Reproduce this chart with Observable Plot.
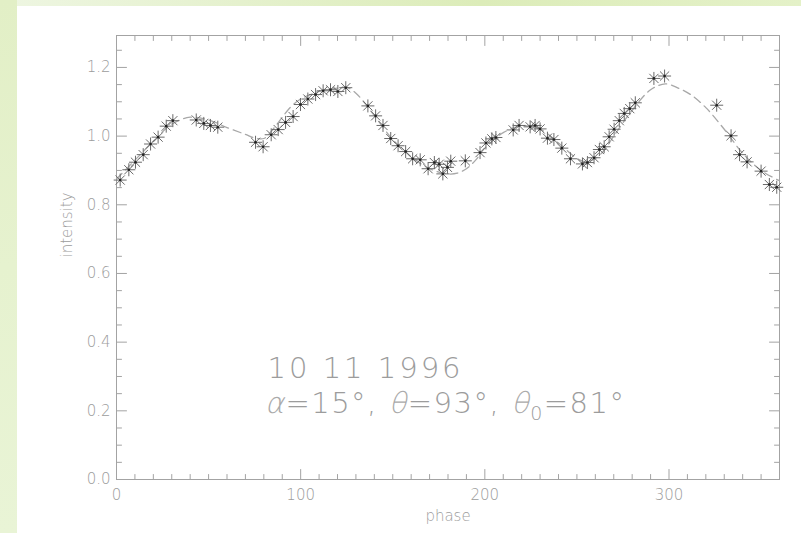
<!DOCTYPE html>
<html><head><meta charset="utf-8">
<script src="https://cdn.jsdelivr.net/npm/d3@7"></script>
<script src="https://cdn.jsdelivr.net/npm/@observablehq/plot@0.6"></script>
<style>
html,body{margin:0;padding:0;}
body{width:801px;height:533px;overflow:hidden;position:relative;background:#fff;}
#bgTop{position:absolute;left:0;top:0;width:801px;height:6px;background:linear-gradient(to right,#eef6e2,#dcecb9 60%,#e4f1c8);}
#bgLeft{position:absolute;left:0;top:0;width:17px;height:533px;background:linear-gradient(to bottom,#e2efc6,#e6f2cf 50%,#e9f4d6);}
#chart{position:absolute;left:0;top:0;}
</style></head><body>
<div id="bgTop"></div><div id="bgLeft"></div><div id="chart"></div>
<script>
// observed points (asterisks)
const phaseObs = [2.0, 6.7, 10.3, 14.5, 18.5, 22.6, 27.0, 30.6, 43.3, 47.4, 51.0, 55.0, 75.5, 79.6, 84.0, 87.8, 91.8, 95.9, 99.9, 103.9, 108.1, 112.2, 116.2, 120.2, 124.5, 136.5, 140.7, 144.7, 148.9, 152.9, 157.0, 160.8, 164.9, 169.2, 172.6, 175.2, 177.2, 179.7, 181.5, 189.4, 197.4, 200.6, 203.8, 206.0, 215.4, 218.6, 224.6, 227.3, 230.0, 234.0, 237.5, 241.8, 246.5, 253.0, 255.7, 259.3, 262.2, 264.8, 267.5, 270.2, 273.0, 275.7, 278.7, 281.7, 291.8, 297.6, 325.9, 333.7, 338.3, 342.4, 350.0, 354.5, 358.5];
const intensityObs = [0.872, 0.902, 0.924, 0.946, 0.977, 0.997, 1.029, 1.045, 1.047, 1.037, 1.031, 1.026, 0.982, 0.969, 1.004, 1.019, 1.040, 1.057, 1.092, 1.108, 1.121, 1.132, 1.135, 1.130, 1.141, 1.088, 1.059, 1.031, 0.993, 0.972, 0.955, 0.934, 0.931, 0.905, 0.923, 0.918, 0.890, 0.909, 0.927, 0.928, 0.952, 0.980, 0.992, 0.996, 1.018, 1.031, 1.027, 1.031, 1.021, 0.994, 0.990, 0.965, 0.934, 0.919, 0.923, 0.937, 0.961, 0.969, 0.998, 1.020, 1.045, 1.066, 1.080, 1.097, 1.168, 1.175, 1.090, 1.001, 0.946, 0.925, 0.898, 0.859, 0.851];
// model curve (dashed)
const phaseModel = [0,10,20,30,40,50,60,70,75,80,85,90,95,100,105,110,120,125,130,135,140,150,160,170,180,185,190,195,200,210,220,230,240,250,255,260,265,270,280,290,298,305,312,320,330,340,350,360];
const intensityModel = [0.875,0.93,0.985,1.035,1.055,1.047,1.025,1.005,0.995,0.993,1.02,1.055,1.087,1.108,1.12,1.13,1.14,1.142,1.125,1.095,1.06,0.99,0.94,0.905,0.89,0.892,0.905,0.93,0.965,1.01,1.03,1.02,0.98,0.935,0.925,0.935,0.96,1.0,1.075,1.135,1.152,1.14,1.12,1.083,1.02,0.95,0.9,0.87];
// axes
const xDomain = [0, 360];
const yDomain = [0, 1.293];
const xTickLabels = [0, 100, 200, 300];
const yTickLabels = [0.0, 0.2, 0.4, 0.6, 0.8, 1.0, 1.2];
const xMinorTicks = d3.range(0, 361, 10).filter(v => v % 100 !== 0);
const yMinorTicks = d3.range(0, 26).map(i => +(i * 0.05).toFixed(2)).filter(v => Math.abs(v / 0.2 - Math.round(v / 0.2)) > 1e-6);
const xTitle = "phase";
const yTitle = "intensity";
// annotation
const annoText = ["10 11 1996", "α=15°, θ=93°, θ₀=81°"];
const annoPhase = [82, 80.5];
const annoIntensity = [0.297, 0.195];

const obs = phaseObs.map((p, i) => ({phase: p, intensity: intensityObs[i]}));
const model = phaseModel.map((p, i) => ({phase: p, intensity: intensityModel[i]}));
const anno = annoText.map((t, i) => ({text: t, phase: annoPhase[i], intensity: annoIntensity[i]}));

const axisColor = "#a3a3a3";
const textColor = "#9c9c9c";
const tickShape = {draw(context, l) { context.moveTo(0, 0); context.lineTo(0, -l); }};
const asterisk = {draw(ctx, size) {
  const r = Math.sqrt(size / Math.PI), d = r * Math.SQRT1_2;
  ctx.moveTo(-r, 0); ctx.lineTo(r, 0);
  ctx.moveTo(0, -r); ctx.lineTo(0, r);
  ctx.moveTo(-d, -d); ctx.lineTo(d, d);
  ctx.moveTo(-d, d); ctx.lineTo(d, -d);
}};

function ticks(values, axis, len) {
  const base = {length: len, shape: tickShape, anchor: "start", stroke: axisColor, strokeWidth: 1};
  if (axis === "x") return [
    Plot.vector(values, {...base, x: d => d, y: () => yDomain[0], rotate: 0}),
    Plot.vector(values, {...base, x: d => d, y: () => yDomain[1], rotate: 180})
  ];
  return [
    Plot.vector(values, {...base, y: d => d, x: () => xDomain[0], rotate: 90}),
    Plot.vector(values, {...base, y: d => d, x: () => xDomain[1], rotate: 270})
  ];
}

const chart = Plot.plot({
  width: 801, height: 533,
  marginLeft: 116, marginRight: 22, marginTop: 35, marginBottom: 54,
  style: {background: "transparent", fontFamily: "'DejaVu Sans', sans-serif", fontWeight: 200, color: textColor},
  x: {domain: xDomain},
  y: {domain: yDomain},
  marks: [
    Plot.frame({stroke: axisColor}),
    ...ticks(xTickLabels, "x", 10),
    ...ticks(xMinorTicks, "x", 5),
    ...ticks(yTickLabels, "y", 10),
    ...ticks(yMinorTicks, "y", 5),
    Plot.axisX({ticks: xTickLabels, tickSize: 0, tickPadding: 10, tickFormat: d3.format("d"), label: null, fontSize: 15, fill: textColor}),
    Plot.axisY({ticks: yTickLabels, tickSize: 0, tickPadding: 6, tickFormat: d3.format(".1f"), label: null, fontSize: 15, fill: textColor}),
    Plot.text([xTitle], {text: d => d, frameAnchor: "bottom", lineAnchor: "bottom", dy: 41, fontSize: 15, fill: textColor}),
    Plot.text([yTitle], {text: d => d, frameAnchor: "left", lineAnchor: "bottom", rotate: -90, dx: -45, fontSize: 15, fill: textColor}),
    Plot.line(model, {x: "phase", y: "intensity", stroke: "#a8a8a8", strokeWidth: 1.3, strokeDasharray: "8,5", curve: "catmull-rom"}),
    Plot.dot(obs, {x: "phase", y: "intensity", symbol: asterisk, r: 6.5, stroke: "#6a6a6a", strokeWidth: 1, fill: "none"}),
    Plot.dot(obs, {x: "phase", y: "intensity", r: 1.3, fill: "#222", stroke: "none"}),
    Plot.text(anno, {x: "phase", y: "intensity", text: "text", textAnchor: "start", lineAnchor: "bottom", fontSize: 29, fill: textColor})
  ]
});
document.getElementById("chart").appendChild(chart);

// styling of the annotation (letter spacing, italic greek, subscript)
const lightItalic = "'DejaVu Sans ExtraLight', 'DejaVu Sans Light', 'DejaVu Sans', sans-serif";
d3.select(chart).selectAll("text").each(function() {
  const t = this.textContent;
  if (t === annoText[0]) {
    this.setAttribute("letter-spacing", "3");
  } else if (t === annoText[1]) {
    const el = d3.select(this);
    el.text(null).attr("letter-spacing", "1.5");
    const greek = s => el.append("tspan").attr("font-family", lightItalic).attr("font-weight", 200).attr("font-style", "italic").attr("fill", "#aaaaaa").text(s);
    greek("α");
    el.append("tspan").text("=15°, ");
    greek("θ");
    el.append("tspan").text("=93°, ");
    greek("θ");
    el.append("tspan").attr("font-size", 19).attr("dy", 7).text("0");
    el.append("tspan").attr("dy", -7).text("=81°");
  }
});
</script>
</body></html>
